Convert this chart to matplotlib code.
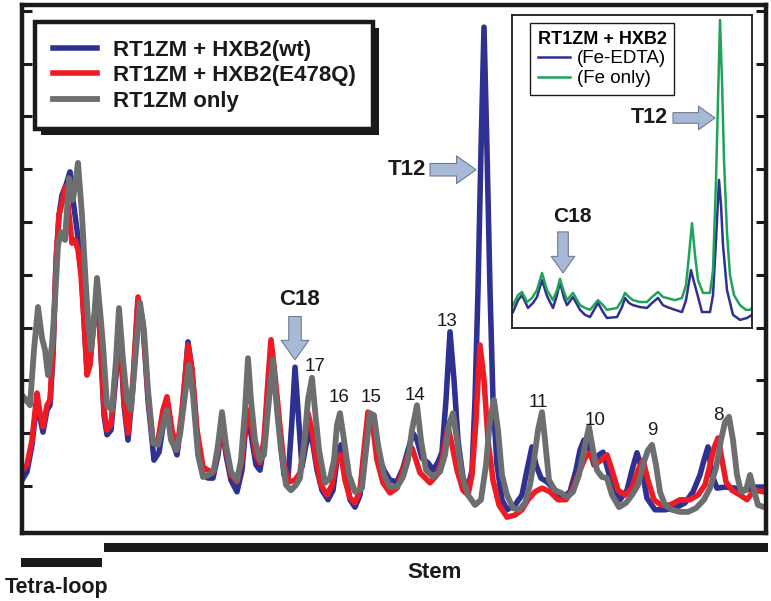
import numpy as np
import matplotlib
matplotlib.use('Agg')
import matplotlib.pyplot as plt
from matplotlib.patches import Rectangle

plt.rcParams['font.family'] = ['Liberation Sans', 'DejaVu Sans']

# ---- main trace data (position, intensity) ----
gray_x = [0, 4, 8, 12, 16, 20, 23, 26, 30, 33, 36, 39, 43, 47, 51, 56, 60, 63, 66, 69, 72, 75, 78, 81, 85, 90, 94, 97,
          101, 105, 109, 114, 118, 122, 126, 131, 136, 141, 145, 149, 154, 158, 163, 167, 171, 176, 181, 187, 192, 196,
          200, 204, 209, 215, 219, 223, 226, 229, 233, 238, 242, 246, 251, 255, 259, 264, 269, 274, 278, 282, 286, 290,
          293, 297, 303, 308, 312, 315, 318, 322, 327, 333, 340, 344, 348, 352, 356, 362, 368, 375, 381, 386, 390, 395,
          399, 404, 411, 418, 423, 427, 431, 435, 440, 446, 453, 459, 464, 468, 472, 476, 480, 485, 491, 497, 503, 508,
          512, 516, 520, 523, 527, 533, 539, 545, 551, 557, 562, 567, 571, 575, 580, 585, 590, 597, 604, 610, 616, 621,
          626, 630, 634, 638, 643, 650, 658, 666, 674, 682, 688, 694, 699, 703, 707, 711, 715, 719, 724, 728, 732, 736, 742]
gray_y = [26.1, 25.2, 24.2, 34.7, 42.8, 36.9, 34.7, 29.9, 35.6, 44.1, 54.5, 57.0, 55.5, 67.2, 63.1, 70.1, 60.2, 49.8,
          40.3, 34.7, 40.3, 48.3, 42.2, 35.6, 24.2, 23.3, 32.8, 42.6, 32.8, 25.2, 23.3, 34.7, 43.6, 38.4, 27.1, 17.0,
          16.7, 20.5, 23.3, 17.6, 15.7, 18.6, 26.1, 31.8, 26.1, 14.8, 10.6, 11.0, 11.9, 16.7, 22.9, 16.7, 11.6, 10.0,
          13.8, 23.3, 33.1, 25.2, 17.6, 13.8, 14.8, 23.3, 32.8, 23.3, 15.7, 9.1, 8.1, 9.1, 10.4, 16.7, 25.2, 29.4,
          23.3, 15.7, 9.5, 10.4, 13.8, 20.5, 22.7, 17.6, 11.0, 7.8, 8.5, 15.7, 22.7, 22.3, 16.7, 11.0, 8.7, 8.7, 10.6,
          13.8, 19.5, 24.2, 17.6, 11.9, 10.6, 11.6, 14.8, 20.5, 22.7, 17.6, 11.0, 7.2, 5.3, 6.3, 12.9, 21.4, 25.2,
          19.5, 11.0, 7.2, 4.7, 4.4, 5.7, 9.1, 13.8, 19.5, 22.9, 17.6, 10.0, 8.1, 7.6, 6.8, 7.8, 11.0, 15.7, 20.1,
          15.7, 11.9, 10.6, 10.4, 7.2, 4.9, 5.7, 7.2, 9.1, 12.9, 15.7, 16.7, 12.9, 7.8, 5.3, 4.4, 4.0, 4.0, 4.7, 6.3,
          8.5, 12.3, 17.6, 21.0, 22.0, 17.6, 11.0, 7.8, 8.1, 11.0, 8.1, 5.3, 4.9]

red_x = [0, 5, 10, 15, 18, 21, 25, 28, 31, 34, 37, 40, 43, 46, 50, 53, 56, 59, 62, 65, 68, 72, 75, 78, 82, 85, 89, 94,
         98, 102, 106, 111, 116, 121, 126, 131, 136, 141, 145, 150, 155, 160, 166, 170, 175, 181, 186, 191, 196, 200,
         204, 209, 215, 220, 223, 226, 230, 234, 238, 242, 246, 249, 253, 258, 262, 267, 273, 278, 282, 286, 290, 294,
         299, 305, 310, 315, 319, 323, 328, 333, 338, 342, 346, 350, 355, 361, 368, 375, 381, 386, 390, 394, 398, 408,
         415, 420, 426, 430, 435, 441, 446, 450, 454, 458, 462, 466, 471, 477, 485, 493, 500, 506, 513, 520, 528, 536,
         544, 550, 556, 563, 568, 573, 579, 585, 590, 596, 603, 610, 616, 621, 626, 632, 639, 648, 658, 668, 676, 683,
         688, 692, 696, 700, 704, 710, 718, 725, 732, 742]
red_y = [11.9, 12.9, 17.6, 26.5, 22.7, 20.1, 24.2, 25.2, 34.7, 51.7, 60.2, 62.5, 65.5, 62.1, 54.9, 55.5, 53.6, 48.9,
         40.3, 29.9, 31.8, 40.3, 46.0, 38.4, 23.3, 19.5, 20.5, 30.9, 38.4, 25.2, 18.9, 29.0, 44.7, 39.8, 26.1, 17.0,
         17.6, 23.3, 25.8, 19.5, 15.7, 23.3, 35.6, 30.9, 19.5, 12.5, 11.9, 11.4, 15.7, 20.8, 15.7, 11.0, 9.7, 13.8,
         19.5, 23.3, 19.5, 14.8, 13.3, 17.6, 29.0, 36.6, 29.9, 20.1, 12.9, 9.7, 10.0, 11.4, 16.7, 22.7, 19.5, 13.8,
         9.1, 7.2, 9.1, 14.4, 14.8, 10.0, 6.6, 5.7, 8.1, 15.7, 22.9, 21.4, 13.8, 9.5, 7.6, 8.5, 11.9, 14.8, 16.1,
         13.8, 11.4, 9.5, 11.0, 13.8, 20.1, 16.7, 11.9, 8.1, 7.2, 11.0, 21.4, 35.6, 29.0, 17.6, 10.0, 5.3, 3.0, 3.4,
         4.4, 6.3, 7.8, 8.5, 7.8, 6.3, 6.3, 8.1, 11.0, 14.2, 15.2, 12.9, 13.8, 14.8, 11.9, 8.1, 7.2, 8.5, 11.9, 13.8,
         10.0, 6.3, 5.3, 5.3, 6.3, 6.3, 7.2, 9.1, 12.9, 16.1, 18.0, 13.8, 9.7, 8.1, 7.2, 6.3, 8.1, 7.8]

blue_x = [0, 5, 10, 15, 18, 21, 25, 28, 31, 34, 37, 40, 44, 48, 51, 55, 59, 62, 65, 68, 72, 75, 78, 82, 85, 89, 94, 98,
          102, 106, 111, 116, 121, 126, 132, 137, 142, 146, 150, 155, 160, 166, 170, 175, 181, 186, 191, 196, 200, 204,
          209, 215, 220, 223, 226, 230, 234, 238, 242, 246, 249, 253, 258, 262, 266, 270, 273, 276, 280, 284, 287, 291,
          295, 300, 306, 311, 315, 319, 323, 328, 333, 338, 342, 347, 351, 356, 362, 368, 375, 381, 386, 391, 395, 400,
          406, 411, 416, 420, 424, 428, 432, 436, 441, 446, 450, 453, 456, 459, 462, 465, 468, 471, 475, 480, 485, 493,
          500, 505, 510, 514, 519, 525, 533, 541, 548, 554, 558, 562, 567, 572, 577, 581, 586, 592, 598, 605, 610, 615,
          620, 625, 633, 643, 653, 663, 671, 678, 682, 686, 690, 695, 703, 713, 723, 733, 742]
blue_y = [10.0, 11.6, 16.7, 25.2, 21.8, 19.1, 23.3, 24.2, 33.7, 50.8, 60.2, 64.0, 65.9, 68.4, 63.1, 57.4, 50.8, 40.3,
          30.9, 32.8, 40.3, 45.6, 37.5, 22.3, 18.6, 19.5, 29.9, 37.9, 24.2, 17.6, 28.0, 44.1, 39.4, 25.2, 13.8, 15.3,
          21.4, 24.2, 17.6, 14.8, 22.3, 36.2, 30.9, 18.6, 11.0, 10.4, 10.4, 14.8, 20.5, 14.8, 10.0, 7.8, 11.9, 18.6,
          22.3, 17.6, 12.9, 11.9, 16.7, 27.1, 33.7, 28.0, 18.6, 11.0, 10.4, 21.4, 31.4, 23.3, 12.5, 16.7, 19.5, 16.7,
          11.9, 8.1, 6.3, 8.1, 13.8, 16.7, 11.9, 6.3, 4.9, 7.2, 14.8, 22.3, 20.5, 14.8, 11.9, 10.0, 9.7, 12.3, 15.7,
          18.9, 17.6, 14.2, 13.3, 11.9, 13.4, 15.3, 25.2, 38.1, 29.0, 17.6, 10.4, 8.5, 11.9, 25.2, 46.0, 72.5, 95.8,
          72.5, 46.0, 25.2, 12.9, 6.3, 4.4, 5.3, 7.2, 11.9, 16.3, 12.9, 10.4, 9.7, 8.1, 6.8, 7.8, 11.9, 15.7, 17.6,
          16.1, 12.9, 14.8, 15.3, 11.9, 7.8, 6.3, 8.1, 11.9, 15.2, 11.9, 6.6, 4.4, 4.4, 4.7, 5.7, 7.8, 11.0, 13.8,
          16.3, 11.0, 8.5, 8.7, 8.5, 8.1, 8.7, 8.7]

# ---- inset data ----
ins_green_x = [1, 6, 10, 15, 20, 25, 30, 35, 41, 45, 48, 52, 55, 61, 68, 73, 78, 86, 91, 95, 105, 110, 113, 117, 121,
               128, 135, 140, 146, 151, 155, 163, 170, 174, 177, 180, 183, 186, 191, 198, 201, 204, 206, 208, 210, 212,
               215, 218, 222, 228, 234, 238, 240]
ins_green_y = [7.3, 10.5, 11.5, 8.3, 9.6, 12.1, 17.6, 12.1, 8.9, 12.1, 15.7, 11.5, 8.9, 11.2, 7.3, 6.4, 5.8, 8.9, 7.3,
               5.8, 6.4, 8.9, 11.2, 9.9, 8.9, 8.3, 8.3, 9.9, 11.5, 9.9, 9.6, 8.9, 9.6, 13.7, 23.3, 33.5, 23.3, 15.3,
               11.2, 11.2, 18.5, 47.3, 72.8, 98.4, 79.2, 53.7, 30.4, 16.9, 10.5, 7.3, 5.8, 5.8, 6.4]
ins_blue_x = [1, 6, 10, 16, 21, 25, 30, 35, 41, 45, 48, 52, 55, 61, 68, 73, 78, 86, 91, 95, 105, 110, 113, 117, 121,
              128, 135, 140, 146, 151, 155, 163, 170, 174, 177, 179, 182, 185, 190, 198, 201, 204, 207, 209, 211, 215,
              221, 228, 235, 240]
ins_blue_y = [5.1, 8.9, 10.5, 6.4, 8.0, 9.9, 15.3, 10.2, 6.4, 10.5, 14.7, 9.6, 7.3, 9.9, 5.8, 4.2, 3.5, 8.0, 5.1, 3.2,
              3.5, 6.7, 9.6, 8.0, 7.3, 6.7, 6.4, 8.0, 9.6, 7.3, 6.7, 5.8, 5.1, 8.9, 14.7, 18.5, 14.7, 11.2, 5.1, 5.1,
              10.5, 28.1, 47.3, 39.3, 26.5, 12.1, 4.2, 2.6, 3.2, 4.2]

peak_labels = ['17', '16', '15', '14', '13', '11', '10', '9', '8']
peak_label_x = [293, 317, 349, 393, 425, 516, 573, 630, 696]
peak_label_y = [31.6, 25.6, 25.6, 26.1, 40.0, 24.8, 21.4, 19.5, 22.2]

c_blue = '#2e3192'
c_red = '#ed1c24'
c_gray = '#6d6e70'
c_green = '#1fa35b'
arrow_fc = '#a7b9d6'
arrow_ec = '#6f7c8f'
ink = '#1a1a1a'

fig = plt.figure(figsize=(7.71, 6.01), dpi=100)
ax = fig.add_axes([22/771, 68/601, 744/771, 528/601])
ax.set_zorder(1)

ax.plot(blue_x, blue_y, color=c_blue, lw=4.0, label='RT1ZM + HXB2(wt)')
ax.plot(red_x, red_y, color=c_red, lw=4.0, label='RT1ZM + HXB2(E478Q)')
ax.plot(gray_x, gray_y, color=c_gray, lw=4.2, label='RT1ZM only')

ax.set_xlim(0, 744)
ax.set_ylim(0, 100)
ax.set_yticks(np.arange(8.9, 100, 10))
ax.set_xticks([])
ax.tick_params(axis='y', direction='in', length=7, width=2.2, left=True, right=True,
               labelleft=False, color=ink)
for s in ax.spines.values():
    s.set_linewidth(3.2)
    s.set_color(ink)

for lab, lx, ly in zip(peak_labels, peak_label_x, peak_label_y):
    ax.text(lx, ly, lab, fontsize=13.5, ha='center', va='center', color=ink)

arr = dict(arrowstyle='simple,head_length=0.7,head_width=1.0,tail_width=0.45',
           fc=arrow_fc, ec=arrow_ec, lw=0.8, mutation_scale=20, shrinkA=0, shrinkB=0)
ax.annotate('', xy=(454, 68.8), xytext=(408, 68.8), arrowprops=arr)
ax.text(404, 68.8, 'T12', fontsize=16, fontweight='bold', ha='right', va='center', color=ink)
ax.annotate('', xy=(273, 32.8), xytext=(273, 41.0), arrowprops=arr)
ax.text(278, 44.2, 'C18', fontsize=16, fontweight='bold', ha='center', va='center', color=ink)

leg = ax.legend(loc='upper left', bbox_to_anchor=(13/744, 1 - 17/528), frameon=True, borderaxespad=0,
                fancybox=False, handlelength=2.0, handletextpad=0.7, labelspacing=0.2,
                borderpad=0.8, prop={'weight': 'bold', 'size': 16})
leg.get_frame().set_edgecolor(ink)
leg.get_frame().set_linewidth(3.2)
leg.get_frame().set_alpha(1)
for t in leg.get_texts():
    t.set_color(ink)
leg.set_zorder(10)

# ---- inset ----
ins = fig.add_axes([512/771, 273/601, 240/771, 313/601])
ins.set_zorder(3)
ins.plot(ins_blue_x, ins_blue_y, color=c_blue, lw=1.8, label='(Fe-EDTA)')
ins.plot(ins_green_x, ins_green_y, color=c_green, lw=1.8, label='(Fe only)')
ins.set_xlim(0, 240)
ins.set_ylim(0, 100)
ins.set_xticks([])
ins.set_yticks([])
for s in ins.spines.values():
    s.set_linewidth(1.3)
    s.set_color(ink)

arr2 = dict(arrowstyle='simple,head_length=0.7,head_width=1.0,tail_width=0.45',
            fc=arrow_fc, ec=arrow_ec, lw=0.8, mutation_scale=17, shrinkA=0, shrinkB=0)
ins.annotate('', xy=(203, 67.1), xytext=(161, 67.1), arrowprops=arr2)
ins.text(156, 67.1, 'T12', fontsize=15.5, fontweight='bold', ha='right', va='center', color=ink)
ins.annotate('', xy=(51, 17.6), xytext=(51, 30.7), arrowprops=arr2)
ins.text(60, 35.6, 'C18', fontsize=15, fontweight='bold', ha='center', va='center', color=ink)

ileg = ins.legend(loc='upper left', bbox_to_anchor=(18/240, 1 - 8/313), title='RT1ZM + HXB2',
                  borderaxespad=0, fancybox=False, fontsize=13.5, handlelength=1.7, handletextpad=0.4,
                  labelspacing=0.15, borderpad=0.4, title_fontproperties={'weight': 'bold', 'size': 13})
ileg.get_frame().set_edgecolor(ink)
ileg.get_frame().set_linewidth(1.0)
ileg.get_frame().set_alpha(1)
ileg._legend_box.align = 'right'

# shadow behind the main legend
fig.canvas.draw()
bb = leg.get_window_extent()
shadow = Rectangle((bb.x0 + 6, bb.y0 - 6), bb.width, bb.height, transform=None,
                   facecolor=ink, edgecolor='none', zorder=9, clip_on=False)
ax.add_artist(shadow)

# ---- region bars below the axes ----
fig.add_artist(Rectangle((21/771, 1 - 567/601), 81/771, 9/601, transform=fig.transFigure,
                         facecolor=ink, edgecolor='none'))
fig.add_artist(Rectangle((104/771, 1 - 552/601), 664/771, 9/601, transform=fig.transFigure,
                         facecolor=ink, edgecolor='none'))
fig.text(57/771, 1 - 588/601, 'Tetra-loop', fontsize=15.5, fontweight='bold', ha='center', va='center',
         color=ink)
fig.text(435/771, 1 - 572/601, 'Stem', fontsize=16, fontweight='bold', ha='center', va='center',
         color=ink)

plt.savefig('out.png', dpi=100)
